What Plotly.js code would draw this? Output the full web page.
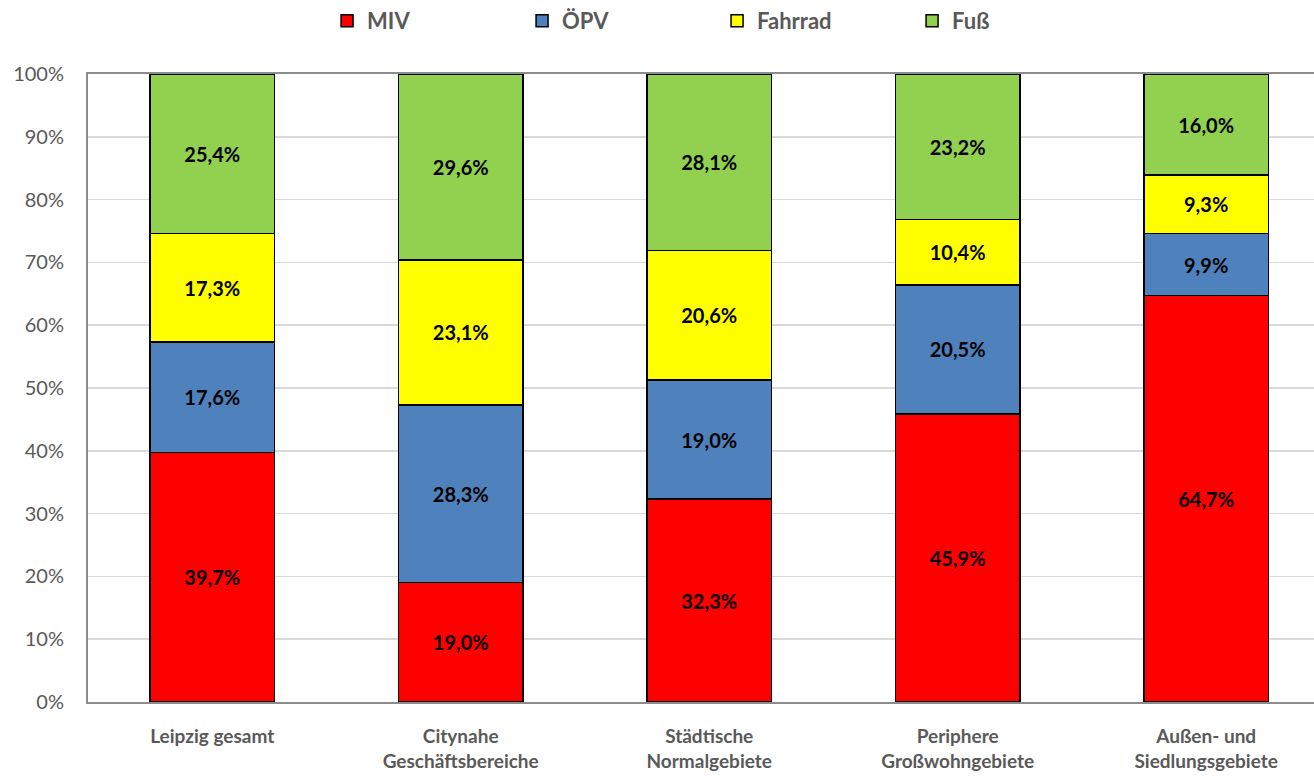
<!DOCTYPE html>
<html>
<head>
<meta charset="utf-8">
<script src="https://cdn.plot.ly/plotly-3.0.1.min.js"></script>
<style>html,body{margin:0;padding:0;background:#fff;}#chart{width:1314px;height:776px;}</style>
</head>
<body>
<div id="chart"></div>
<script>
const categories = ["Leipzig gesamt", "Citynahe<br>Geschäftsbereiche", "Städtische<br>Normalgebiete", "Periphere<br>Großwohngebiete", "Außen- und<br>Siedlungsgebiete"];
const miv = [39.7, 19.0, 32.3, 45.9, 64.7];
const oepv = [17.6, 28.3, 19.0, 20.5, 9.9];
const fahrrad = [17.3, 23.1, 20.6, 10.4, 9.3];
const fuss = [25.4, 29.6, 28.1, 23.2, 16.0];
const seriesNames = ["MIV", "ÖPV", "Fahrrad", "Fuß"];
const seriesColors = ["#ff0000", "#4f81bd", "#ffff00", "#92d050"];
const tickVals = [0, 10, 20, 30, 40, 50, 60, 70, 80, 90, 100];
const tickText = ["0%", "10%", "20%", "30%", "40%", "50%", "60%", "70%", "80%", "90%", "100%"];

const fmt = v => v.toFixed(1).replace(".", ",") + "%";
const xIdx = categories.map((c, i) => i);

const traces = [miv, oepv, fahrrad, fuss].map((vals, k) => ({
  type: "bar",
  name: seriesNames[k],
  x: xIdx,
  y: vals,
  width: 0.5,
  marker: { color: seriesColors[k], line: { color: "#000", width: 1.5 } },
  text: vals.map(fmt),
  textposition: "inside",
  insidetextanchor: "middle",
  textangle: 0,
  constraintext: "none",
  textfont: { family: "Lato, sans-serif", size: 20, color: "#000", weight: "bold" },
  hoverinfo: "name+y"
}));

const layout = {
  width: 1314, height: 776,
  margin: { l: 88, r: 0, t: 74, b: 74 },
  barmode: "stack",
  paper_bgcolor: "#fff", plot_bgcolor: "#fff",
  font: { family: "Lato, sans-serif", color: "#595959" },
  showlegend: true,
  legend: {
    orientation: "h", traceorder: "normal",
    x: 0.195, xanchor: "left", y: 1.0, yanchor: "top",
    yref: "container",
    entrywidth: 150, entrywidthmode: "pixels",
    font: { family: "Lato, sans-serif", size: 22, color: "#595959", weight: "bold" },
    itemclick: false
  },
  xaxis: {
    range: [-0.5, 4.434],
    tickvals: xIdx, ticktext: categories,
    tickfont: { family: "Lato, sans-serif", size: 19, color: "#595959", weight: "bold" },
    ticklabelstandoff: 16,
    showline: true, linecolor: "#8c8c8c", linewidth: 2, mirror: true,
    ticks: "", showgrid: false, zeroline: false
  },
  yaxis: {
    range: [0, 100],
    tickvals: tickVals, ticktext: tickText,
    tickfont: { family: "Lato, sans-serif", size: 20, color: "#595959" },
    ticklabelstandoff: 18,
    showline: true, linecolor: "#8c8c8c", linewidth: 2,
    showgrid: true, gridcolor: "#d9d9d9", gridwidth: 1.5,
    ticks: "", ticklen: 0, zeroline: false
  }
};

Plotly.newPlot("chart", traces, layout, { displayModeBar: false, staticPlot: true });
</script>
</body>
</html>
